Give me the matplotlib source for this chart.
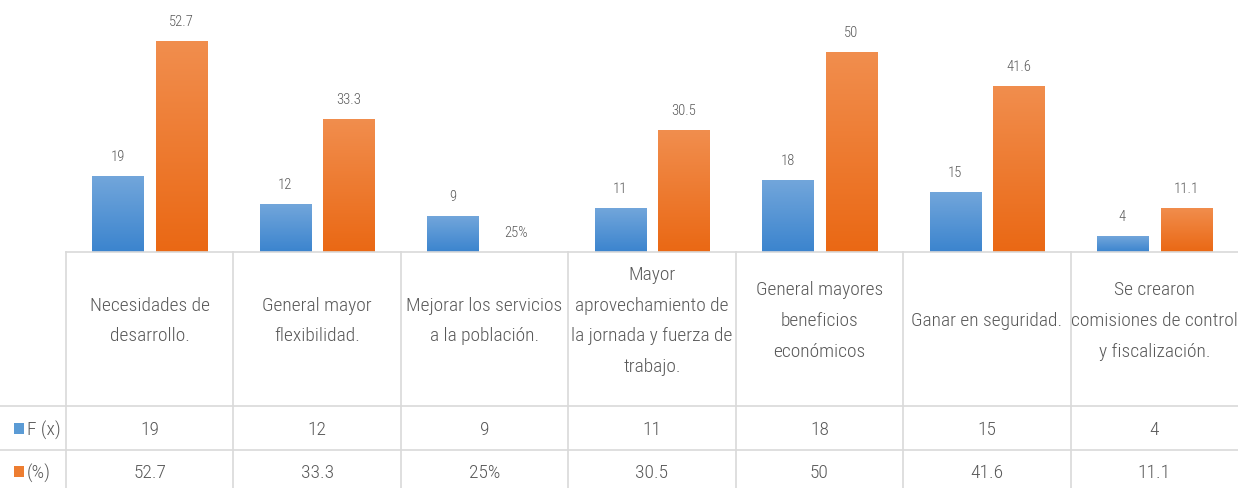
import numpy as np
import matplotlib
matplotlib.use("Agg")
import matplotlib.pyplot as plt
from matplotlib import font_manager as fm
from matplotlib.colors import LinearSegmentedColormap

# ---------------- data ----------------
categories = [
    "Necesidades de\ndesarrollo.",
    "General mayor\nflexibilidad.",
    "Mejorar los servicios\na la población.",
    "Mayor\naprovechamiento de\nla jornada y fuerza de\ntrabajo.",
    "General mayores\nbeneficios\neconómicos",
    "Ganar en seguridad.",
    "Se crearon\ncomisiones de control\ny fiscalización.",
]
series_names = ["F (x)", "(%)"]
fx_values = [19, 12, 9, 11, 18, 15, 4]
fx_labels = ["19", "12", "9", "11", "18", "15", "4"]
pct_values = [52.7, 33.3, 0, 30.5, 50, 41.6, 11.1]   # "25%" was stored as text -> no bar
pct_labels = ["52.7", "33.3", "25%", "30.5", "50", "41.6", "11.1"]

# ---------------- style ----------------
W, H = 1238, 489
names = {f.name for f in fm.fontManager.ttflist}
narrow = None
for cand in ["Roboto Condensed", "Liberation Sans Narrow", "DejaVu Sans Condensed", "Open Sans Condensed"]:
    if cand in names:
        narrow = cand
        break
if narrow is None:
    narrow = "Liberation Sans"
    scale = 0.82
else:
    scale = 1.0
plt.rcParams['font.family'] = [narrow, 'DejaVu Sans']
plt.rcParams['font.weight'] = 'light'

TXT = "#595959"
GRID = "#D9D9D9"
blue_top, blue_bot = "#72A6DB", "#3B84CE"
or_top, or_bot = "#F18E4E", "#EA6814"

fig = plt.figure(figsize=(W / 100, H / 100), dpi=100)
fig.patch.set_facecolor("white")

# pixel geometry
x_left, x_right = 66, 1238
y_base = 253
px_per_unit = 4.0
ncol = len(categories)

ax = fig.add_axes([x_left / W, (H - y_base) / H, (x_right - x_left) / W, y_base / H])
ax.axis("off")

x = np.arange(ncol)
bw, off = 0.305, 0.19

def gradient_bars(bars, c_top, c_bot):
    cmap = LinearSegmentedColormap.from_list("g", [c_bot, c_top])
    grad = np.linspace(0, 1, 256).reshape(-1, 1)
    for b in bars:
        h = b.get_height()
        if h <= 0:
            continue
        x0 = b.get_x()
        im = ax.imshow(grad, extent=[x0, x0 + b.get_width(), 0, h], origin="lower",
                       cmap=cmap, aspect="auto", zorder=2)
        im.set_clip_path(b)
        b.set_facecolor("none")

b1 = ax.bar(x - off, fx_values, bw, color=blue_bot, linewidth=0, zorder=1)
b2 = ax.bar(x + off, pct_values, bw, color=or_bot, linewidth=0, zorder=1)
gradient_bars(b1, blue_top, blue_bot)
gradient_bars(b2, or_top, or_bot)
ax.set_xlim(-0.5, ncol - 0.5)
ax.set_ylim(0, y_base / px_per_unit)

for bars, labs in ((b1, fx_labels), (b2, pct_labels)):
    for b, lab in zip(bars, labs):
        ax.annotate(lab, (b.get_x() + b.get_width() / 2, b.get_height()),
                    xytext=(0, 13), textcoords="offset pixels",
                    ha="center", va="bottom", fontsize=10.5 * scale, color=TXT)

# ---------------- data table ----------------
ov = fig.add_axes([0, 0, 1, 1])
ov.set_xlim(0, W)
ov.set_ylim(H, 0)
ov.axis("off")
ov.patch.set_alpha(0)

col_w = (x_right - x_left) / ncol
row1_y, row2_y = 407, 451
ov.plot([x_left, x_right], [y_base, y_base], color=GRID, lw=1.2)
ov.plot([0, W], [row1_y, row1_y], color=GRID, lw=1.2)
ov.plot([0, W], [row2_y, row2_y], color=GRID, lw=1.2)
for i in range(ncol):
    xb = x_left + i * col_w
    ov.plot([xb, xb], [y_base, H], color=GRID, lw=1.2)

FS = 14 * scale
for i, cat in enumerate(categories):
    cx = x_left + (i + 0.5) * col_w
    ov.text(cx, 321, cat, ha="center", va="center", fontsize=FS,
            color=TXT, linespacing=1.9)
    ov.text(cx, 430, fx_labels[i], ha="center", va="center", fontsize=FS, color=TXT)
    ov.text(cx, 473, pct_labels[i], ha="center", va="center", fontsize=FS, color=TXT)

# legend keys in row headers
for yc, col, name in ((430, "#5B9BD5", series_names[0]), (473, "#ED7D31", series_names[1])):
    ov.add_patch(plt.Rectangle((14, yc - 6), 10, 11, color=col, lw=0))
    ov.text(27, yc, name, ha="left", va="center", fontsize=FS, color=TXT)

fig.savefig("out.png", dpi=100, facecolor="white")
